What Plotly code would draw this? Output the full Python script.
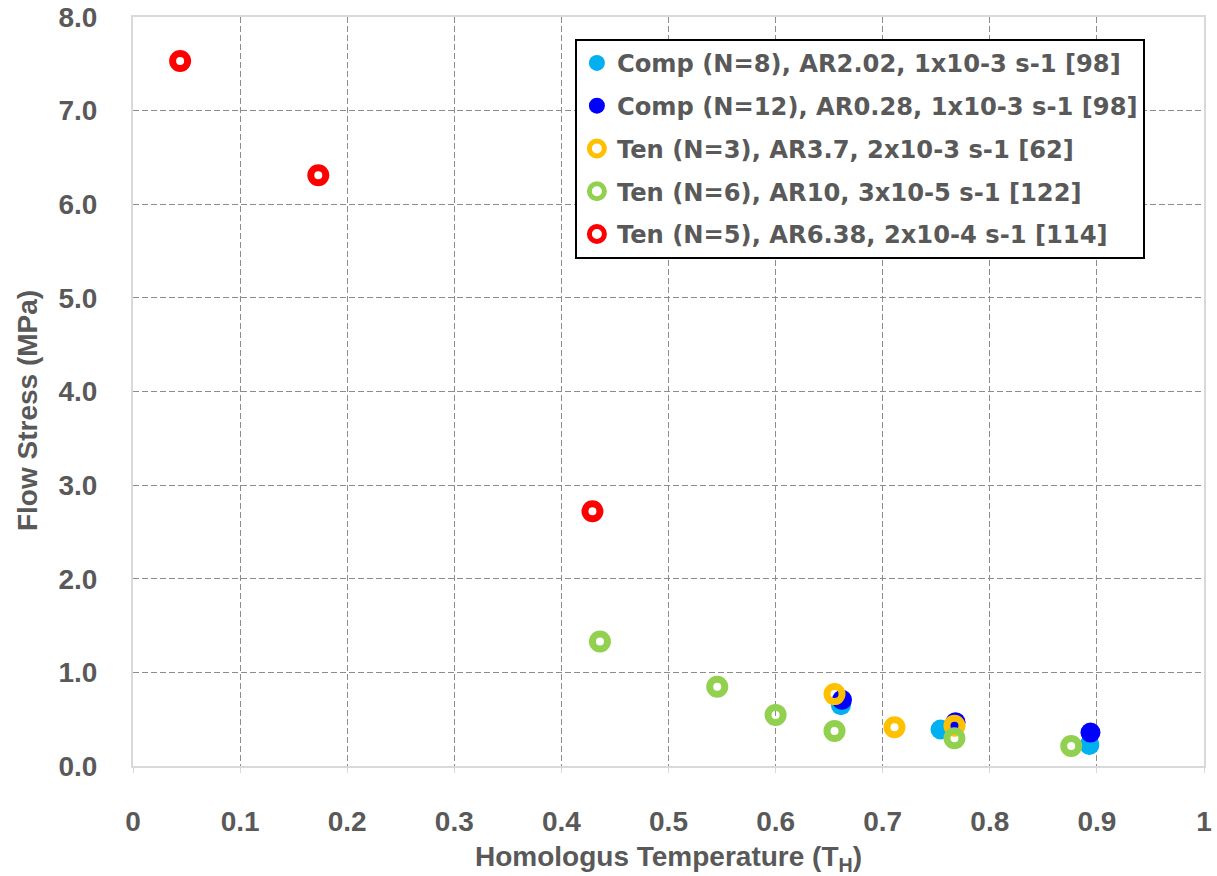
import plotly.graph_objects as go

# Data (Homologous temperature, flow stress MPa)
comp8_x = [0.661, 0.754, 0.893]
comp8_y = [0.65, 0.39, 0.225]
comp12_x = [0.662, 0.768, 0.894]
comp12_y = [0.707, 0.468, 0.357]
ten3_x = [0.655, 0.711, 0.767]
ten3_y = [0.768, 0.414, 0.43]
ten6_x = [0.436, 0.5455, 0.600, 0.655, 0.767, 0.876]
ten6_y = [1.33, 0.847, 0.546, 0.375, 0.297, 0.214]
ten5_x = [0.044, 0.173, 0.429]
ten5_y = [7.53, 6.31, 2.72]

names = [
    "Comp (N=8), AR2.02, 1x10-3 s-1 [98]",
    "Comp (N=12), AR0.28, 1x10-3 s-1 [98]",
    "Ten (N=3), AR3.7, 2x10-3 s-1 [62]",
    "Ten (N=6), AR10, 3x10-5 s-1 [122]",
    "Ten (N=5), AR6.38, 2x10-4 s-1 [114]",
]
x_ticks = [0, 0.1, 0.2, 0.3, 0.4, 0.5, 0.6, 0.7, 0.8, 0.9, 1]
x_ticktext = ["0", "0.1", "0.2", "0.3", "0.4", "0.5", "0.6", "0.7", "0.8", "0.9", "1"]
y_ticks = [0, 1, 2, 3, 4, 5, 6, 7, 8]

TXT = "#595959"
FONT = "Liberation Sans"
LFONT = "DejaVu Sans"

fig = go.Figure()
fig.add_trace(go.Scatter(x=comp8_x, y=comp8_y, mode="markers", name=names[0], legendgroup="g1",
                         marker=dict(symbol="circle", size=20, color="#00B0F0")))
fig.add_trace(go.Scatter(x=comp12_x, y=comp12_y, mode="markers", name=names[1], legendgroup="g2",
                         marker=dict(symbol="circle", size=20, color="#0000FF")))
for i, (xs, ys, nm, col) in enumerate([(ten3_x, ten3_y, names[2], "#FFC000"),
                                       (ten6_x, ten6_y, names[3], "#92D050"),
                                       (ten5_x, ten5_y, names[4], "#FF0000")]):
    fig.add_trace(go.Scatter(x=xs, y=ys, mode="markers", name=nm, legendgroup=f"g{i+3}",
                             marker=dict(symbol="circle-open", size=15, color=col,
                                         line=dict(width=7, color=col))))

fig.update_layout(
    width=1217, height=876,
    margin=dict(l=133, r=13, t=17, b=110),
    plot_bgcolor="white", paper_bgcolor="white",
    font=dict(family=FONT, color=TXT, size=20),
    showlegend=True,
    legend=dict(x=0.4126, y=0.971, xanchor="left", yanchor="top",
                bgcolor="white", bordercolor="black", borderwidth=2,
                traceorder="grouped", tracegroupgap=8.3,
                font=dict(family=LFONT, size=24.2, color=TXT, weight="bold"),
                itemsizing="trace"),
    xaxis=dict(range=[0, 1], tickvals=x_ticks, ticktext=x_ticktext, automargin=False,
               showgrid=True, gridcolor="#8c8c8c", griddash="6px,3px", gridwidth=1,
               showline=True, linecolor="#d9d9d9", linewidth=2, mirror=True,
               ticks="outside", ticklen=5, tickcolor="#d9d9d9", zeroline=False,
               ticklabelstandoff=24,
               tickfont=dict(family=FONT, size=28, color=TXT, weight="bold"),
               title=dict(text="Homologus Temperature (T<sub>H</sub>)", standoff=16,
                          font=dict(family=FONT, size=28, color=TXT, weight="bold"))),
    yaxis=dict(range=[0, 8], tickvals=y_ticks, tickformat=".1f", automargin=False,
               showgrid=True, gridcolor="#8c8c8c", griddash="6px,3px", gridwidth=1,
               showline=True, linecolor="#d9d9d9", linewidth=2, mirror=True,
               ticks="", zeroline=False, ticklabelstandoff=28,
               tickfont=dict(family=FONT, size=28, color=TXT, weight="bold")),
    annotations=[dict(text="Flow Stress (MPa)", textangle=-90, showarrow=False,
                      xref="paper", yref="paper", x=-0.098, y=0.474,
                      xanchor="center", yanchor="middle",
                      font=dict(family=FONT, size=28, color=TXT, weight="bold"))],
)

fig.write_html("out.html")
